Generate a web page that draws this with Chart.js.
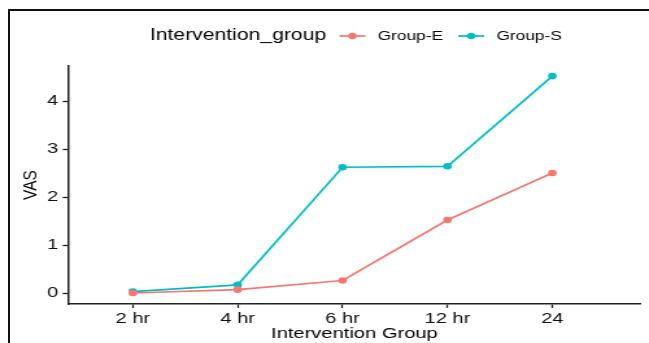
<!DOCTYPE html>
<html>
<head>
<meta charset="utf-8">
<script src="https://cdn.jsdelivr.net/npm/chart.js@4/dist/chart.umd.min.js"></script>
<style>
  html, body { margin: 0; padding: 0; background: #fff; width: 649px; height: 343px; overflow: hidden; }
  #frame { position: absolute; left: 8px; top: 9px; width: 700px; height: 400px;
           border-top: 2px solid #111; border-left: 2px solid #111; }
  #c { position: absolute; left: 0; top: 0; transform-origin: 0 0; transform: scaleX(1.298); }
</style>
</head>
<body>
<div id="frame"></div>
<canvas id="c" width="500" height="343"></canvas>
<script>
// ---- data ----
const categories = ['2 hr', '4 hr', '6 hr', '12 hr', '24'];
const groupE = [0.0, 0.07, 0.26, 1.52, 2.50];
const groupS = [0.03, 0.17, 2.62, 2.64, 4.52];
const yTicks = [0, 1, 2, 3, 4];
const seriesNames = ['Group-E', 'Group-S'];
const legendTitle = 'Intervention_group';
const xTitle = 'Intervention Group';
const yTitle = 'VAS';

const colE = '#F8766D';
const colS = '#00BFC4';
const FONT = "'Liberation Sans', Arial, Helvetica, sans-serif";

const legendPlugin = {
  id: 'ggLegend',
  afterDraw(chart) {
    const ctx = chart.ctx;
    ctx.save();
    const y = 36;
    ctx.textBaseline = 'middle';
    ctx.textAlign = 'left';
    ctx.fillStyle = '#000';
    ctx.font = '16.3px ' + FONT;
    ctx.fillText(legendTitle, 115.5, y);
    const items = [
      { name: seriesNames[0], color: colE, lx: 261.5, tx: 291 },
      { name: seriesNames[1], color: colS, lx: 353, tx: 382.5 }
    ];
    ctx.font = '13.3px ' + FONT;
    items.forEach(it => {
      ctx.strokeStyle = it.color;
      ctx.lineWidth = 1.7;
      ctx.beginPath();
      ctx.moveTo(it.lx, y);
      ctx.lineTo(it.lx + 20, y);
      ctx.stroke();
      ctx.fillStyle = it.color;
      ctx.beginPath();
      ctx.arc(it.lx + 10, y, 3.2, 0, Math.PI * 2);
      ctx.fill();
      ctx.fillStyle = '#000';
      ctx.fillText(it.name, it.tx, y);
    });
    ctx.restore();
  }
};

const toPts = arr => arr.map((v, i) => ({ x: i, y: v }));

new Chart(document.getElementById('c'), {
  type: 'line',
  data: {
    datasets: [
      { label: seriesNames[0], data: toPts(groupE), borderColor: colE, backgroundColor: colE,
        borderWidth: 1.7, pointRadius: 3.3, pointBorderWidth: 0, tension: 0 },
      { label: seriesNames[1], data: toPts(groupS), borderColor: colS, backgroundColor: colS,
        borderWidth: 1.7, pointRadius: 3.3, pointBorderWidth: 0, tension: 0 }
    ]
  },
  options: {
    responsive: false,
    animation: false,
    devicePixelRatio: 1,
    layout: { padding: { top: 66, right: 6.2, left: 0, bottom: 0 } },
    plugins: { legend: { display: false }, tooltip: { enabled: false } },
    scales: {
      x: {
        type: 'linear',
        min: -0.619,
        max: 4.845,
        afterBuildTicks: s => { s.ticks = categories.map((c, i) => ({ value: i })); },
        afterFit: s => { s.height = 39; },
        grid: { drawOnChartArea: false, drawTicks: true, tickLength: 4, tickColor: '#222', tickWidth: 1.3 },
        border: { display: true, color: '#222', width: 1.5 },
        ticks: { color: '#111', font: { family: FONT, size: 15.5 }, padding: 1,
                 maxRotation: 0, autoSkip: false,
                 callback: v => categories[v] },
        title: { display: true, text: xTitle, color: '#000', font: { family: FONT, size: 15.5 },
                 padding: { top: 0, bottom: 0 } }
      },
      y: {
        type: 'linear',
        min: -0.229,
        max: 4.73,
        afterBuildTicks: s => { s.ticks = yTicks.map(v => ({ value: v })); },
        afterFit: s => { s.width = 52.3; },
        grid: { drawOnChartArea: false, drawTicks: true, tickLength: 4, tickColor: '#222', tickWidth: 1.3 },
        border: { display: true, color: '#222', width: 1.5 },
        ticks: { color: '#111', font: { family: FONT, size: 15.5 }, padding: 3.5 },
        title: { display: true, text: yTitle, color: '#000', font: { family: FONT, size: 15.5 },
                 padding: { top: 14, bottom: 0 } }
      }
    }
  },
  plugins: [legendPlugin]
});
</script>
</body>
</html>
